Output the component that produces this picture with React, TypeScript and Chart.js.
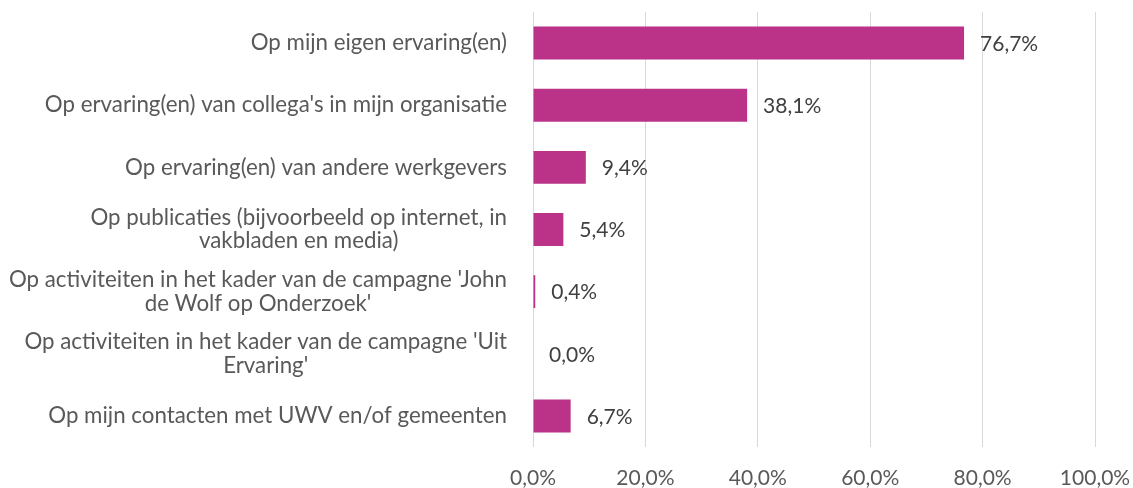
import React, { useEffect, useRef } from "react";
import { Chart, registerables } from "chart.js";

Chart.register(...registerables);

const categories: string[][] = [
  ["Op mijn eigen ervaring(en)"],
  ["Op ervaring(en) van collega's in mijn organisatie"],
  ["Op ervaring(en) van andere werkgevers"],
  ["Op publicaties (bijvoorbeeld op internet, in", "vakbladen en media)"],
  ["Op activiteiten in het kader van de campagne 'John", "de Wolf op Onderzoek'"],
  ["Op activiteiten in het kader van de campagne 'Uit", "Ervaring'"],
  ["Op mijn contacten met UWV en/of gemeenten"],
];

const values: number[] = [76.7, 38.1, 9.4, 5.4, 0.4, 0.0, 6.7];

const xMin = 0;
const xMax = 100;
const xStep = 20;

const FONT = "Lato, 'Open Sans', sans-serif";
const CAT_FONT_SIZE = 22.3;
const NUM_FONT_SIZE = 21;
const BAR_COLOR = "#BA3389";
const TEXT_COLOR = "#595959";
const LABEL_COLOR = "#404040";

const fmt = (v: number) => v.toFixed(1).replace(".", ",") + "%";

const categoryLabelPlugin = {
  id: "categoryLabels",
  afterDraw(chart: any) {
    const ctx = chart.ctx;
    const yScale = chart.scales.y;
    const area = chart.chartArea;
    const rightEdge = area.left - 26;
    const lineH = 23.5;
    ctx.save();
    ctx.font = `${CAT_FONT_SIZE}px ${FONT}`;
    ctx.fillStyle = TEXT_COLOR;
    ctx.textAlign = "center";
    ctx.textBaseline = "middle";
    categories.forEach((lines, i) => {
      const cy = yScale.getPixelForValue(i);
      const maxW = Math.max(...lines.map((l) => ctx.measureText(l).width));
      const cx = rightEdge - maxW / 2;
      const startY = cy - ((lines.length - 1) * lineH) / 2;
      lines.forEach((l, j) => ctx.fillText(l, cx, startY + j * lineH));
    });
    ctx.restore();
  },
};

const valueLabelPlugin = {
  id: "valueLabels",
  afterDatasetsDraw(chart: any) {
    const ctx = chart.ctx;
    const meta = chart.getDatasetMeta(0);
    ctx.save();
    ctx.font = `${NUM_FONT_SIZE}px ${FONT}`;
    ctx.fillStyle = LABEL_COLOR;
    ctx.textAlign = "left";
    ctx.textBaseline = "middle";
    meta.data.forEach((bar: any, i: number) => {
      ctx.fillText(fmt(values[i]), bar.x + 16, bar.y + 1);
    });
    ctx.restore();
  },
};

export default function App() {
  const ref = useRef<HTMLCanvasElement | null>(null);

  useEffect(() => {
    document.body.style.margin = "0";
    if (!ref.current) return;
    const chart = new Chart(ref.current, {
      type: "bar",
      data: {
        labels: categories,
        datasets: [
          {
            data: values,
            backgroundColor: BAR_COLOR,
            borderWidth: 0,
            barPercentage: 0.53,
            categoryPercentage: 1,
          },
        ],
      },
      options: {
        indexAxis: "y",
        animation: false,
        responsive: false,
        maintainAspectRatio: false,
        layout: { padding: { left: 533, top: 12, right: 38, bottom: 0 } },
        plugins: {
          legend: { display: false },
          tooltip: { enabled: false },
        },
        scales: {
          x: {
            min: xMin,
            max: xMax,
            ticks: {
              stepSize: xStep,
              callback: (v: any) => fmt(Number(v)),
              color: TEXT_COLOR,
              font: { family: FONT, size: NUM_FONT_SIZE, lineHeight: 1 },
              padding: 21,
              maxRotation: 0,
            },
            grid: { color: "#D9D9D9", lineWidth: 1, drawTicks: false },
            border: { display: false },
            afterFit: (scale: any) => {
              scale.paddingLeft = 0;
              scale.paddingRight = 0;
              scale.height = 41;
            },
          },
          y: {
            ticks: { display: false },
            grid: { display: false, drawTicks: false, tickLength: 0 },
            border: { display: false },
            afterFit: (scale: any) => {
              scale.width = 0;
              scale.paddingTop = 0;
              scale.paddingBottom = 0;
            },
          },
        },
      },
      plugins: [categoryLabelPlugin, valueLabelPlugin],
    });
    return () => chart.destroy();
  }, []);

  return (
    <div style={{ width: 1133, height: 488 }}>
      <canvas ref={ref} width={1133} height={488} style={{ width: 1133, height: 488, display: "block" }} />
    </div>
  );
}
